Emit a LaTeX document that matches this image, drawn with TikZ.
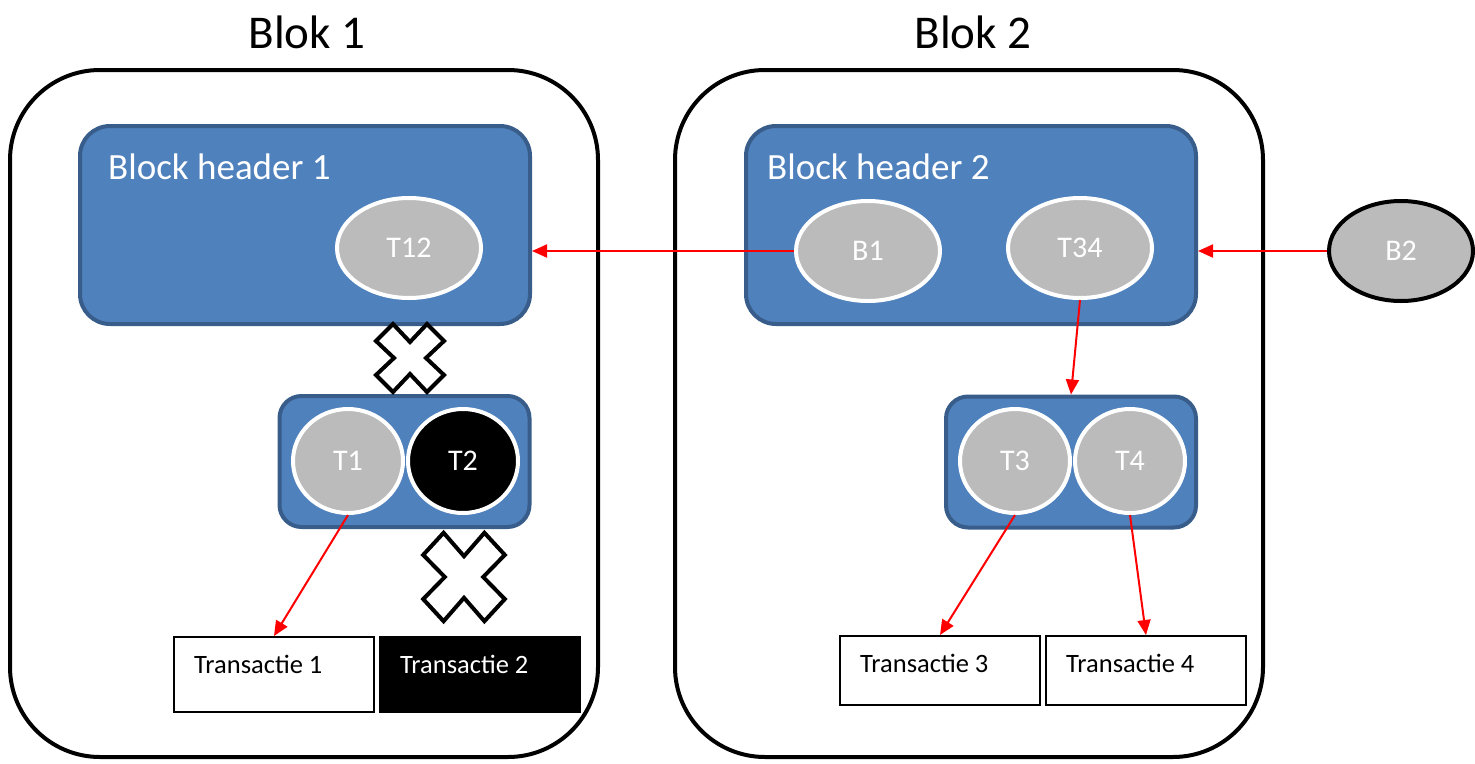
\documentclass[tikz,border=0pt]{standalone}
\usepackage{fontspec}
\setmainfont{Carlito}
\usetikzlibrary{shapes.geometric,arrows.meta}
\definecolor{hdrblue}{HTML}{4F81BD}
\definecolor{hdrline}{HTML}{385D8A}
\definecolor{hashgrey}{HTML}{BBBBBB}

\begin{document}
\begin{tikzpicture}[x=1pt, y=-1pt,
  blok/.style={draw, line width=4pt, rounded corners=90pt, minimum width=588pt, minimum height=687pt},
  header/.style={draw=hdrline, fill=hdrblue, line width=4pt, rounded corners=30pt, minimum width=450pt, minimum height=198pt},
  group/.style={draw=hdrline, fill=hdrblue, line width=4pt, rounded corners=22pt, minimum width=250pt, minimum height=131pt},
  hash/.style={ellipse, draw=white, fill=hashgrey, line width=4pt, text=white, inner sep=0pt, minimum width=144pt, minimum height=100pt, font=\fontsize{30}{36}\selectfont},
  leaf/.style={hash, minimum width=110pt, minimum height=104pt},
  txbox/.style={draw, line width=2pt, minimum width=200pt, minimum height=75pt},
  txtext/.style={anchor=west, inner sep=0pt, font=\fontsize{26.5}{32}\selectfont},
  title/.style={font=\fontsize{47}{56}\selectfont},
  htext/.style={anchor=west, inner sep=0pt, text=white, font=\fontsize{37}{44}\selectfont},
  arr/.style={draw=red, line width=2pt, -{Triangle[length=15pt,width=13pt]}},
  cross/.style={draw, fill=white, line width=4pt, line join=miter}
]
\useasboundingbox (0,0) rectangle (1475,763);

% the two blocks
\node[title] (title1) at (307,32) {Blok 1};
\node[title] (title2) at (973,32) {Blok 2};
\node[blok] (blok1) at (304,413.5) {};
\node[blok] (blok2) at (969,413.5) {};

% block headers
\node[header] (h1) at (305,225) {};
\node[header] (h2) at (971,225) {};
\node[htext] (h1text) at (108,167) {Block header 1};
\node[htext] (h2text) at (767,167) {Block header 2};
\node[hash] (t12) at (409,248) {T12};
\node[hash] (b1) at (868,251) {B1};
\node[hash] (t34) at (1080,248) {T34};
\node[hash, draw=black] (b2) at (1401,251) {B2};

% transaction hashes
\node[group] (g1) at (404.5,461.5) {};
\node[group] (g2) at (1071,462) {};
\node[leaf] (t1) at (348,461) {T1};
\node[leaf, fill=black] (t2) at (463,461) {T2};
\node[leaf] (t3) at (1015,461) {T3};
\node[leaf] (t4) at (1130,461) {T4};

% transactions
\node[txbox] (tx1) at (274,674.5) {};
\node[txbox, fill=black] (tx2) at (480,674.5) {};
\node[txbox, minimum height=69pt] (tx3) at (940,670.5) {};
\node[txbox, minimum height=69pt] (tx4) at (1146,670.5) {};
\node[txtext] (tx1text) at (194,664) {Transactie 1};
\node[txtext, text=white] (tx2text) at (400,664) {Transactie 2};
\node[txtext] (tx3text) at (860,663) {Transactie 3};
\node[txtext] (tx4text) at (1066,663) {Transactie 4};

% links
\draw[arr] (b1.west) -- (b1.west -| h1.east);
\draw[arr] (b2.west) -- (b2.west -| h2.east);
\draw[arr] (t34.south) -- (g2.north);
\draw[arr] (t1.south) -- (tx1.north);
\draw[arr] (t3.south) -- (tx3.north);
\draw[arr] (t4.south) -- (tx4.north);

% broken links
\draw[cross, shift={(410,358)}] (0,-16) -- (17,-34) -- (34,-17) -- (16,0) -- (34,17) -- (17,34)
  -- (0,16) -- (-17,34) -- (-34,17) -- (-16,0) -- (-34,-17) -- (-17,-34) -- cycle;
\draw[cross, shift={(464,577)}, xscale=1.2, yscale=1.3] (0,-16) -- (17,-34) -- (34,-17) -- (16,0) -- (34,17) -- (17,34)
  -- (0,16) -- (-17,34) -- (-34,17) -- (-16,0) -- (-34,-17) -- (-17,-34) -- cycle;

\end{tikzpicture}
\end{document}
